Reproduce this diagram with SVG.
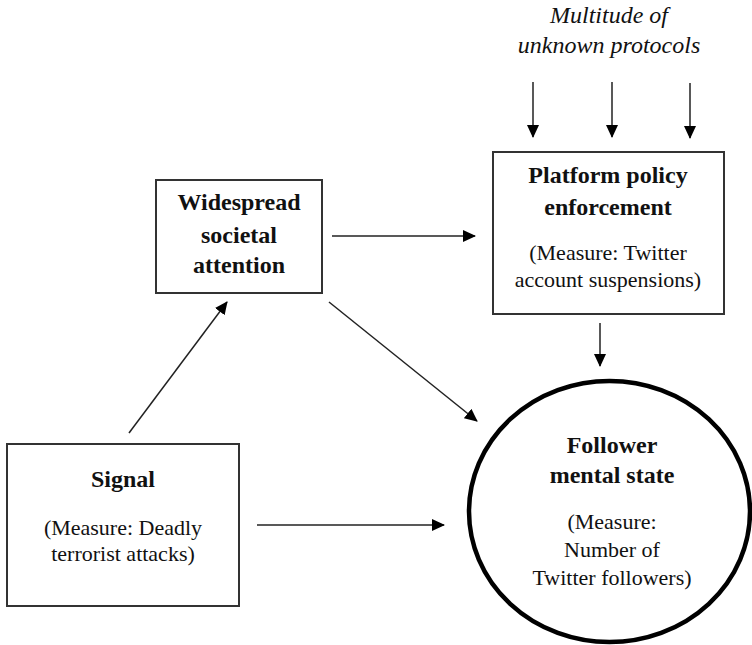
<svg xmlns="http://www.w3.org/2000/svg" width="752" height="645" viewBox="0 0 752 645">
<style>
.box{fill:#fff;stroke:#333;stroke-width:2}
.circ{fill:#fff;stroke:#000;stroke-width:4.5}
.b{font-family:"Liberation Serif",serif;font-weight:bold;font-size:24px;fill:#111;text-anchor:middle}
.n{font-family:"Liberation Serif",serif;font-size:22px;fill:#111;text-anchor:middle}
.i{font-family:"Liberation Serif",serif;font-style:italic;font-size:24px;fill:#111;text-anchor:middle}
.c{stroke:#222;stroke-width:1.5;fill:none;marker-end:url(#ah)}
</style>
<defs>
<marker id="ah" markerWidth="13" markerHeight="12" refX="12" refY="6" orient="auto" markerUnits="userSpaceOnUse">
<path d="M0,0 L13,6 L0,12 Z" fill="#000"/>
</marker>
</defs>
<g id="protocols">
<text class="i" x="609" y="23">Multitude of</text>
<text class="i" x="609" y="53">unknown protocols</text>
</g>
<g id="widespread">
<rect class="box" x="156" y="180" width="166" height="113"/>
<text class="b" x="239" y="210">Widespread</text>
<text class="b" x="239" y="243">societal</text>
<text class="b" x="239" y="273">attention</text>
</g>
<g id="platform">
<rect class="box" x="493" y="152" width="231" height="162"/>
<text class="b" x="608" y="183">Platform policy</text>
<text class="b" x="608" y="215">enforcement</text>
<text class="n" x="608" y="260">(Measure: Twitter</text>
<text class="n" x="608" y="287">account suspensions)</text>
</g>
<g id="signal">
<rect class="box" x="7" y="444" width="232" height="162"/>
<text class="b" x="123" y="487">Signal</text>
<text class="n" x="123" y="535">(Measure: Deadly</text>
<text class="n" x="123" y="561">terrorist attacks)</text>
</g>
<g id="follower">
<ellipse class="circ" cx="609.5" cy="511.5" rx="140.5" ry="130.5"/>
<text class="b" x="612" y="453">Follower</text>
<text class="b" x="612" y="483">mental state</text>
<text class="n" x="612" y="529">(Measure:</text>
<text class="n" x="612" y="557">Number of</text>
<text class="n" x="612" y="585">Twitter followers)</text>
</g>
<g id="connectors">
<line class="c" x1="533" y1="82" x2="533" y2="137"/>
<line class="c" x1="612" y1="82" x2="612" y2="137"/>
<line class="c" x1="690" y1="83" x2="690" y2="138"/>
<line class="c" x1="332" y1="236" x2="475" y2="236"/>
<line class="c" x1="600" y1="323" x2="600" y2="366"/>
<line class="c" x1="329" y1="302" x2="477" y2="421"/>
<line class="c" x1="129" y1="433" x2="227" y2="302"/>
<line class="c" x1="257" y1="525" x2="444" y2="525"/>
</g>
</svg>
